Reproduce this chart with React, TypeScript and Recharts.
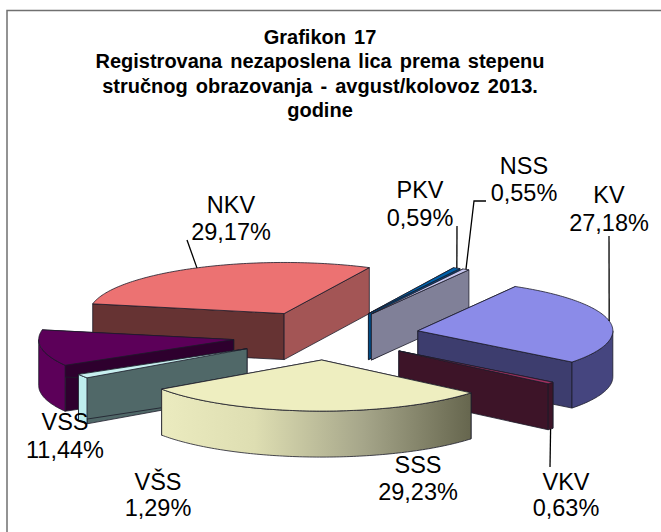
import React from "react";
import { PieChart, Pie } from "recharts";

const categories = ["KV", "VKV", "SSS", "VŠS", "VSS", "NKV", "PKV", "NSS"];
const shares = [27.18, 0.63, 29.23, 1.29, 11.44, 29.17, 0.59, 0.55];
const titleLines = [
  "Grafikon 17",
  "Registrovana nezaposlena lica prema stepenu",
  "stručnog obrazovanja - avgust/kolovoz 2013.",
  "godine",
];

// back to front, svg has no z-index
const paintOrder = ["NKV", "PKV", "NSS", "VSS", "VŠS", "KV", "VKV", "SSS"];

const tableData = categories.map((name, i) => ({ name, value: shares[i] }));

const WIDTH = 661;
const HEIGHT = 532;
const RX = 195;
const TILT = 0.262; // ry / rx
const EXPLODE = 0.48;
const DEPTH = 46;
const RAD = Math.PI / 180;

const faceColors: Record<string, { top: string; start: string; end: string; outer: string }> = {
  KV: { top: "#8B8BE8", start: "#45457F", end: "#3D3D6E", outer: "#45457F" },
  VKV: { top: "#A0305F", start: "#3D1428", end: "#3D1428", outer: "#3D1428" },
  SSS: { top: "#EEEEC0", start: "#77775F", end: "#77775F", outer: "url(#sssWall)" },
  "VŠS": { top: "#C8F0F0", start: "#506868", end: "#506868", outer: "#BDEDEE" },
  VSS: { top: "#5C0059", start: "#2E002E", end: "#2E002E", outer: "#5C0059" },
  NKV: { top: "#EC7272", start: "#663333", end: "#A35555", outer: "#663333" },
  PKV: { top: "#0060A8", start: "#004C85", end: "#004C85", outer: "#004C85" },
  NSS: { top: "#C8C8F0", start: "#808098", end: "#808098", outer: "#808098" },
};

// label centre x, centre y of both rows
const labelSpots: Record<string, [number, number, number]> = {
  KV: [609, 195, 223],
  VKV: [566, 482, 508],
  SSS: [418, 465, 492],
  "VŠS": [158, 482, 508],
  VSS: [65, 422, 450],
  NKV: [231, 205, 232],
  PKV: [420, 190, 218],
  NSS: [524, 166, 193],
};

// where the leader lines end, next to the text
const leaderEnds: Record<string, [number, number][]> = {
  KV: [[609, 236]],
  VKV: [[550, 467]],
  NKV: [[187, 240]],
  PKV: [[457, 226]],
  NSS: [[474, 201], [486, 201]],
};

const apexOf = (cx: number, cy: number, rx: number, midAngle: number) => ({
  x: cx + EXPLODE * rx * Math.cos(midAngle * RAD),
  y: cy - EXPLODE * rx * TILT * Math.sin(midAngle * RAD),
});

const onRim = (apex: { x: number; y: number }, rx: number, angle: number) => ({
  x: apex.x + rx * Math.cos(angle * RAD),
  y: apex.y - rx * TILT * Math.sin(angle * RAD),
});

const rimPath = (apex: { x: number; y: number }, rx: number, from: number, to: number) => {
  const steps = Math.max(2, Math.ceil(Math.abs(from - to)));
  const pts = [];
  for (let i = 0; i <= steps; i++) {
    const p = onRim(apex, rx, from + ((to - from) * i) / steps);
    pts.push(`${p.x.toFixed(2)} ${p.y.toFixed(2)}`);
  }
  return pts;
};

const outline = { stroke: "#1c1c2a", strokeWidth: 0.8, strokeLinejoin: "round" as const };

// one exploded 3d slice, angles come from the Pie
const makeSlice = (only: string) => (props: any) => {
  const { cx, cy, outerRadius, startAngle, endAngle, midAngle, name } = props;
  if (name !== only) return <g />;
  const c = faceColors[name];
  const apex = apexOf(cx, cy, outerRadius, midAngle);
  const wall = (angle: number, fill: string) => {
    const p = onRim(apex, outerRadius, angle);
    return (
      <path
        d={`M${apex.x} ${apex.y}L${p.x} ${p.y}L${p.x} ${p.y + DEPTH}L${apex.x} ${apex.y + DEPTH}Z`}
        fill={fill}
        {...outline}
      />
    );
  };
  // only the front half of the rim can be seen
  const hi = Math.min(startAngle, 0);
  const lo = Math.max(endAngle, -180);
  let outer = null;
  if (hi > lo) {
    const top = rimPath(apex, outerRadius, hi, lo);
    const bottom = rimPath({ x: apex.x, y: apex.y + DEPTH }, outerRadius, lo, hi);
    outer = <path d={`M${top.join("L")}L${bottom.join("L")}Z`} fill={c.outer} {...outline} />;
  }
  const rim = rimPath(apex, outerRadius, startAngle, endAngle);
  return (
    <g>
      {wall(startAngle, c.start)}
      {wall(endAngle, c.end)}
      {outer}
      <path d={`M${apex.x} ${apex.y}L${rim.join("L")}Z`} fill={c.top} {...outline} />
    </g>
  );
};

const renderLabel = (props: any) => {
  const { cx, cy, outerRadius, midAngle, name, value } = props;
  const [x, y1, y2] = labelSpots[name];
  const apex = apexOf(cx, cy, outerRadius, midAngle);
  const start = onRim(apex, outerRadius, midAngle);
  const fromY = Math.sin(midAngle * RAD) < 0 ? start.y + DEPTH : start.y;
  const ends = leaderEnds[name];
  return (
    <g>
      {ends && (
        <polyline
          points={[[start.x, fromY], ...ends].map((p) => p.join(",")).join(" ")}
          fill="none"
          stroke="#000"
          strokeWidth={1.3}
        />
      )}
      <text x={x} y={y1} textAnchor="middle" dominantBaseline="central" fontSize={23.5} fill="#000">
        {name}
      </text>
      <text x={x} y={y2} textAnchor="middle" dominantBaseline="central" fontSize={23.5} fill="#000">
        {value.toFixed(2).replace(".", ",")}%
      </text>
    </g>
  );
};

const pieProps = {
  data: tableData,
  dataKey: "value",
  nameKey: "name",
  cx: 326,
  cy: 335.5,
  outerRadius: RX,
  startAngle: 60,
  endAngle: -300,
  isAnimationActive: false,
};

export default function App() {
  return (
    <div style={{ position: "absolute", left: 0, top: 0, fontFamily: "'Liberation Sans', Arial, sans-serif" }}>
      <PieChart width={WIDTH} height={HEIGHT} margin={{ top: 0, right: 0, bottom: 0, left: 0 }}>
        <defs>
          <linearGradient id="sssWall" x1="0" y1="0" x2="1" y2="0">
            <stop offset="0" stopColor="#EBEBBF" />
            <stop offset="0.3" stopColor="#DEDEB2" />
            <stop offset="0.65" stopColor="#A6A68A" />
            <stop offset="1" stopColor="#66664E" />
          </linearGradient>
        </defs>
        <path d={`M7 ${HEIGHT}V10.5H${WIDTH}`} fill="none" stroke="#707070" strokeWidth={1.5} />
        {titleLines.map((line, i) => (
          <text
            key={line}
            x={320}
            y={44 + i * 24.4}
            textAnchor="middle"
            fontSize={20}
            fontWeight="bold"
            wordSpacing={2.5}
            fill="#000"
          >
            {line}
          </text>
        ))}
        {paintOrder.map((name) => (
          <Pie key={name} {...pieProps} shape={makeSlice(name)} />
        ))}
        <Pie {...pieProps} fill="none" shape={() => <g />} label={renderLabel} labelLine={false} />
      </PieChart>
    </div>
  );
}
